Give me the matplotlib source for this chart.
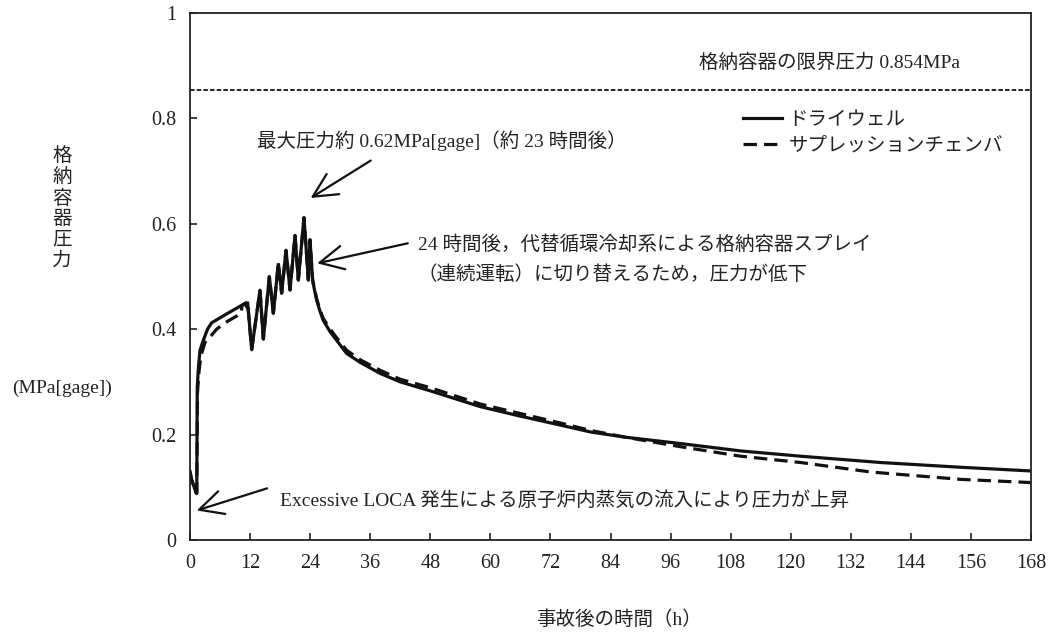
import matplotlib
matplotlib.use("Agg")
import matplotlib.pyplot as plt
from matplotlib.ticker import FixedLocator, FuncFormatter

plt.rcParams['font.family'] = ['Liberation Serif', 'Noto Sans CJK JP', 'DejaVu Sans']

# ---- data ----
dw_t = [0, 0.3, 1.2, 1.35, 1.45, 1.7, 2.0, 2.7, 3.5, 4.3, 7.5, 11.0, 11.2, 11.5,
        12.32, 13.98, 14.65, 15.85, 16.65, 17.65, 18.31, 19.18, 19.98, 20.98, 21.64,
        22.77, 23.64, 23.97, 24.5, 24.6, 25.3, 25.97, 26.6, 28, 30, 31.3, 34, 38, 42,
        48, 58, 66, 74, 80, 87, 98, 110, 122, 138, 154, 168]
dw_p = [0.13, 0.115, 0.09, 0.088, 0.29, 0.33, 0.36, 0.38, 0.40, 0.412, 0.43, 0.449, 0.445, 0.452,
        0.361, 0.474, 0.381, 0.500, 0.430, 0.525, 0.468, 0.550, 0.474, 0.578, 0.493,
        0.612, 0.493, 0.570, 0.493, 0.487, 0.455, 0.434, 0.417, 0.395, 0.37, 0.354, 0.337, 0.316, 0.30,
        0.283, 0.253, 0.235, 0.218, 0.205, 0.195, 0.183, 0.169, 0.159, 0.147, 0.138, 0.131]

sc_t = [0, 0.3, 1.2, 1.35, 1.5, 1.8, 2.2, 3.0, 4.0, 5.3, 7.5, 9.7, 10.2, 10.4, 11.0, 11.2, 11.5,
        12.32, 13.98, 14.65, 15.85, 16.65, 17.65, 18.31, 19.18, 19.98, 20.98, 21.64,
        22.77, 23.64, 23.97, 24.5, 24.6, 25.3, 25.97, 26.6, 28, 30, 31.3, 34, 38, 42,
        48, 58, 66, 74, 80, 87, 98, 110, 122, 136, 154, 168]
sc_p = [0.13, 0.115, 0.09, 0.088, 0.28, 0.32, 0.35, 0.375, 0.385, 0.40, 0.415, 0.427, 0.43, 0.445, 0.449, 0.445, 0.452,
        0.361, 0.474, 0.381, 0.500, 0.430, 0.525, 0.468, 0.550, 0.474, 0.578, 0.493,
        0.612, 0.493, 0.570, 0.493, 0.489, 0.458, 0.437, 0.421, 0.40, 0.375, 0.36, 0.342, 0.322, 0.305,
        0.289, 0.258, 0.240, 0.222, 0.208, 0.195, 0.177, 0.159, 0.147, 0.129, 0.115, 0.109]

limit_p = 0.854
x_ticks = [0, 12, 24, 36, 48, 60, 72, 84, 96, 108, 120, 132, 144, 156, 168]
y_ticks = [0, 0.2, 0.4, 0.6, 0.8, 1.0]
series_labels = ['ドライウェル', 'サプレッションチェンバ']

# ---- figure ----
fig = plt.figure(figsize=(10.5, 6.33), dpi=100)
ax = fig.add_axes([190 / 1050, 1 - 540 / 633, 841 / 1050, 527 / 633])

lw = 2.3
ax.plot(dw_t, dw_p, color='#111111', lw=lw, solid_joinstyle='miter', label=series_labels[0])
ax.plot(sc_t, sc_p, color='#111111', lw=lw, dashes=(4.2, 2.2), label=series_labels[1])
ax.axhline(limit_p, color='#111111', lw=1.3, dashes=(2.5, 1.2))

ax.set_xlim(0, 168)
ax.set_ylim(0, 1)
ax.xaxis.set_major_locator(FixedLocator(x_ticks))
ax.yaxis.set_major_locator(FixedLocator(y_ticks))
ax.yaxis.set_major_formatter(FuncFormatter(lambda v, p: '0' if v == 0 else ('1' if v == 1 else f'{v:.1f}')))
ax.tick_params(direction='in', length=5, width=1.2, labelsize=14.5, pad=10, colors='#222222')
for s in ax.spines.values():
    s.set_linewidth(1.3)
    s.set_color('#222222')

fs = 14
tc = '#222222'
ax.text(101.7, 0.906, '格納容器の限界圧力 0.854MPa', fontsize=fs, color=tc, ha='left', va='center')
ax.text(13.4, 0.757, '最大圧力約 0.62MPa[gage]（約 23 時間後）', fontsize=fs, color=tc, ha='left', va='center')
ax.text(45.5, 0.561, '24 時間後，代替循環冷却系による格納容器スプレイ', fontsize=fs, color=tc, ha='left', va='center')
ax.text(45.5, 0.504, '（連続運転）に切り替えるため，圧力が低下', fontsize=fs, color=tc, ha='left', va='center')
ax.text(18.0, 0.075, 'Excessive LOCA 発生による原子炉内蒸気の流入により圧力が上昇', fontsize=fs, color=tc,
        ha='left', va='center')

ap = dict(arrowstyle='->,head_length=0.9,head_width=0.45', lw=1.6, color='#111111',
          mutation_scale=19, shrinkA=0, shrinkB=0)
ax.annotate('', xy=(24.1, 0.649), xytext=(36.1, 0.72), arrowprops=ap)
ax.annotate('', xy=(25.4, 0.525), xytext=(43.5, 0.563), arrowprops=ap)
ax.annotate('', xy=(1.34, 0.056), xytext=(15.4, 0.098), arrowprops=ap)

leg = ax.legend(loc='center left', bbox_to_anchor=(110.4 / 168, 0.7725), frameon=False,
                fontsize=fs, handlelength=2.0, handletextpad=0.35, labelspacing=0.4,
                borderpad=0, borderaxespad=0)
for t in leg.get_texts():
    t.set_color(tc)

# y label (vertical stacked) and unit
fig.text(62 / 1050, 1 - 208 / 633, '格\n納\n容\n器\n圧\n力', fontsize=fs, color=tc,
         ha='center', va='center', linespacing=1.25)
fig.text(62 / 1050, 1 - 388 / 633, '(MPa[gage])', fontsize=fs, color=tc, ha='center', va='center')
fig.text(619 / 1050, 1 - 620 / 633, '事故後の時間（h）', fontsize=fs, color=tc, ha='center', va='center')

fig.savefig('out.png', dpi=100)
